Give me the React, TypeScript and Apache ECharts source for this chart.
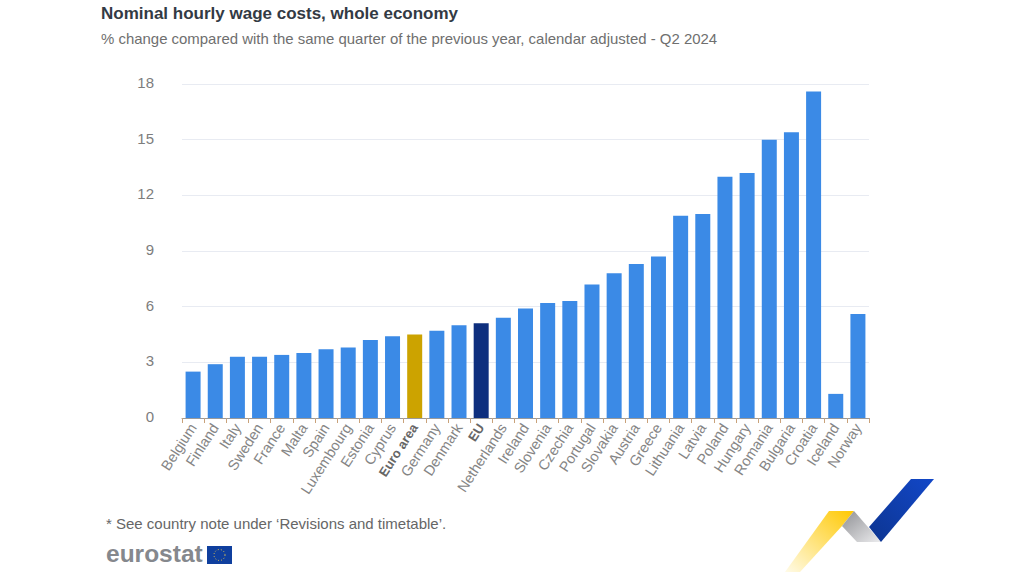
import React, { useEffect, useRef } from "react";
import * as echarts from "echarts";

const titleText = "Nominal hourly wage costs, whole economy";
const subtitleText = "% change compared with the same quarter of the previous year, calendar adjusted - Q2 2024";
const noteText = "* See country note under ‘Revisions and timetable’.";
const categories = ["Belgium","Finland","Italy","Sweden","France","Malta","Spain","Luxembourg","Estonia","Cyprus","Euro area","Germany","Denmark","EU","Netherlands","Ireland","Slovenia","Czechia","Portugal","Slovakia","Austria","Greece","Lithuania","Latvia","Poland","Hungary","Romania","Bulgaria","Croatia","Iceland","Norway"];
const values = [2.5,2.9,3.3,3.3,3.4,3.5,3.7,3.8,4.2,4.4,4.5,4.7,5.0,5.1,5.4,5.9,6.2,6.3,7.2,7.8,8.3,8.7,10.9,11.0,13.0,13.2,15.0,15.4,17.6,1.3,5.6];
const highlight: Record<string, string> = { "Euro area": "#cca300", EU: "#0e2f7e" };
const font = "Liberation Sans";

export default function App() {
  const ref = useRef<HTMLDivElement>(null);
  useEffect(() => {
    const chart = echarts.init(ref.current!, null, { renderer: "svg" });
    const grad = (x: number, y: number, x2: number, y2: number, a: string, b: string) =>
      new echarts.graphic.LinearGradient(x, y, x2, y2, [{ offset: 0, color: a }, { offset: 1, color: b }]);
    chart.setOption({
      animation: false,
      backgroundColor: "#ffffff",
      grid: { left: 182, right: 155, top: 84, bottom: 158 },
      xAxis: {
        type: "category",
        data: categories,
        axisLine: { lineStyle: { color: "#9a9a9a", width: 1 } },
        axisTick: { show: true, length: 5, lineStyle: { color: "#c9a27a" } },
        axisLabel: {
          interval: 0,
          rotate: 57,
          margin: 7,
          fontFamily: font,
          fontSize: 14.5,
          color: "#858585",
          formatter: (v: string) => (highlight[v] ? `{b|${v}}` : v),
          rich: { b: { fontFamily: font, fontSize: 13, fontWeight: "bold", color: "#666666" } },
        },
      },
      yAxis: {
        type: "value",
        min: 0,
        max: 18,
        interval: 3,
        axisLine: { show: false },
        axisTick: { show: false },
        splitLine: { lineStyle: { color: "#e8ebf2", width: 1 } },
        axisLabel: {
          margin: 28,
          formatter: (v: number) => `{n|${v}}`,
          rich: { n: { fontFamily: font, fontSize: 15, color: "#7d7d7d", padding: [0, 0, 3, 0] } },
        },
      },
      series: [{
        type: "bar",
        barWidth: 15,
        data: values.map((v, i) => ({
          value: v,
          itemStyle: { color: highlight[categories[i]] ?? "#3b8ae6" },
        })),
      }],
      graphic: [
        { type: "text", x: 101, y: 5, style: { text: titleText, fontFamily: font, fontSize: 17, fontWeight: "bold", fill: "#333a44" } },
        { type: "text", x: 101, y: 31, style: { text: subtitleText, fontFamily: font, fontSize: 14.95, fill: "#6f6f6f" } },
        { type: "text", x: 106, y: 516, style: { text: noteText, fontFamily: font, fontSize: 15, fill: "#666666" } },
        { type: "text", x: 106, y: 541, style: { text: "eurostat", fontFamily: font, fontSize: 24.5, fontWeight: "bold", fill: "#85888d" } },
        { type: "rect", shape: { x: 207, y: 546, width: 25, height: 18 }, style: { fill: "#0f3f9e" } },
        { type: "circle", shape: { cx: 219.5, cy: 555, r: 5.5 }, style: { fill: "none", stroke: "#e8c84a", lineWidth: 1, lineDash: [1, 2] } },
        { type: "polygon", shape: { points: [[829, 511], [854, 511], [842, 526], [800, 572], [785, 572]] },
          style: { fill: grad(1, 0, 0, 1, "#ffc800", "#fffbe8") } },
        { type: "polygon", shape: { points: [[854, 511], [881, 542], [857, 542], [842, 526]] },
          style: { fill: grad(0, 0, 1, 1, "#8f9094", "#ececee") } },
        { type: "polygon", shape: { points: [[911, 479], [934, 479], [881, 542], [869, 527]] },
          style: { fill: grad(1, 0, 0, 1, "#1247c8", "#0d3590") } },
      ],
    });
    return () => chart.dispose();
  }, []);
  return <div ref={ref} style={{ position: "fixed", left: 0, top: 0, width: 1024, height: 576 }} />;
}
